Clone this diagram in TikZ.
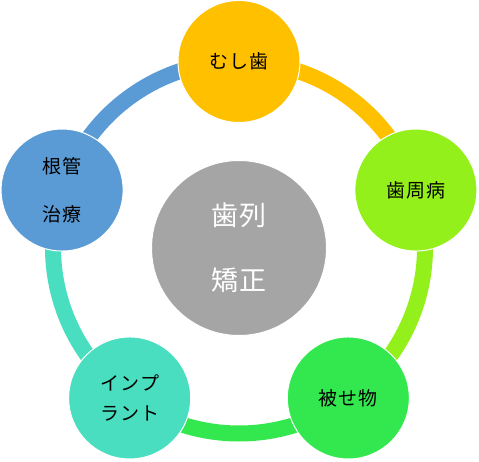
\documentclass[tikz,border=0pt]{standalone}
\usepackage{fontspec}
\newfontfamily\jp[LetterSpace=6]{Noto Sans CJK JP}
\usetikzlibrary{calc}
\definecolor{cOrange}{HTML}{FFC000}
\definecolor{cLime}{HTML}{94F01A}
\definecolor{cGreen}{HTML}{33E84F}
\definecolor{cTeal}{HTML}{4ADEC0}
\definecolor{cBlue}{HTML}{5B9BD5}
\definecolor{cGray}{HTML}{A5A5A5}
\tikzset{
  ring/.style={line width=16pt},
  outer/.style={circle, draw=white, line width=1pt, minimum size=122pt, inner sep=0pt,
    font=\jp\fontsize{19pt}{23pt}\selectfont, text=black, align=center},
  hub/.style={circle, draw=white, line width=1pt, minimum size=175pt, inner sep=0pt,
    fill=cGray, font=\jp\fontsize{27pt}{32pt}\selectfont, text=white, align=center}
}
\begin{document}
\begin{tikzpicture}[x=1pt,y=1pt]
\useasboundingbox (0,0) rectangle (479,461);
\coordinate (C) at (239,213.5);
\def\R{186pt}
\coordinate (pT) at ($(C)+(90:\R)$);
\coordinate (pR) at ($(C)+(18:\R)$);
\coordinate (pBR) at ($(C)+(-54:\R)$);
\coordinate (pBL) at ($(C)+(-126:\R)$);
\coordinate (pL) at ($(C)+(162:\R)$);
% ring arcs
\draw[ring, cOrange] (pT) arc[start angle=90, end angle=18, radius=\R];
\draw[ring, cLime] (pR) arc[start angle=18, end angle=-54, radius=\R];
\draw[ring, cGreen] (pBR) arc[start angle=-54, end angle=-126, radius=\R];
\draw[ring, cTeal] (pBL) arc[start angle=-126, end angle=-198, radius=\R];
\draw[ring, cBlue] (pL) arc[start angle=162, end angle=90, radius=\R];
% hub
\node[hub] (hub) at ($(C)+(0,-0.5)$) {歯列\\[33pt]矯正};
% outer circles
\node[outer, fill=cOrange] (top) at (pT) {むし歯};
\node[outer, fill=cLime] (right) at (pR) {歯周病};
\node[outer, fill=cGreen] (bright) at (pBR) {被せ物};
\node[outer, fill=cTeal] (bleft) at (pBL) {インプ\\[7pt]ラント};
\node[outer, fill=cBlue] (left) at (pL) {根管\\[25pt]治療};
\end{tikzpicture}
\end{document}
